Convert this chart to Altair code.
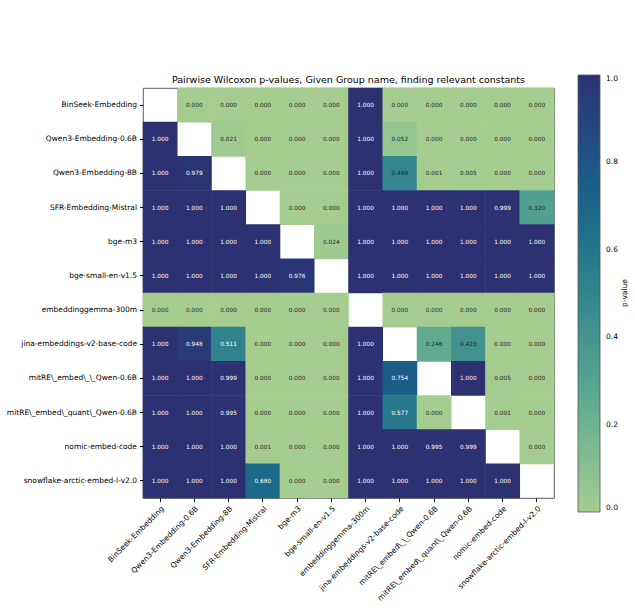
import altair as alt
import pandas as pd

names = [
    "BinSeek-Embedding",
    "Qwen3-Embedding-0.6B",
    "Qwen3-Embedding-8B",
    "SFR-Embedding-Mistral",
    "bge-m3",
    "bge-small-en-v1.5",
    "embeddinggemma-300m",
    "jina-embeddings-v2-base-code",
    "mitRE\\_embed\\_\\_Qwen-0.6B",
    "mitRE\\_embed\\_quant\\_Qwen-0.6B",
    "nomic-embed-code",
    "snowflake-arctic-embed-l-v2.0",
]

N = None
pvals = [
    [N, 0.000, 0.000, 0.000, 0.000, 0.000, 1.000, 0.000, 0.000, 0.000, 0.000, 0.000],
    [1.000, N, 0.021, 0.000, 0.000, 0.000, 1.000, 0.052, 0.000, 0.000, 0.000, 0.000],
    [1.000, 0.979, N, 0.000, 0.000, 0.000, 1.000, 0.489, 0.001, 0.005, 0.000, 0.000],
    [1.000, 1.000, 1.000, N, 0.000, 0.000, 1.000, 1.000, 1.000, 1.000, 0.999, 0.320],
    [1.000, 1.000, 1.000, 1.000, N, 0.024, 1.000, 1.000, 1.000, 1.000, 1.000, 1.000],
    [1.000, 1.000, 1.000, 1.000, 0.976, N, 1.000, 1.000, 1.000, 1.000, 1.000, 1.000],
    [0.000, 0.000, 0.000, 0.000, 0.000, 0.000, N, 0.000, 0.000, 0.000, 0.000, 0.000],
    [1.000, 0.948, 0.511, 0.000, 0.000, 0.000, 1.000, N, 0.246, 0.423, 0.000, 0.000],
    [1.000, 1.000, 0.999, 0.000, 0.000, 0.000, 1.000, 0.754, N, 1.000, 0.005, 0.000],
    [1.000, 1.000, 0.995, 0.000, 0.000, 0.000, 1.000, 0.577, 0.000, N, 0.001, 0.000],
    [1.000, 1.000, 1.000, 0.001, 0.000, 0.000, 1.000, 1.000, 0.995, 0.999, N, 0.000],
    [1.000, 1.000, 1.000, 0.680, 0.000, 0.000, 1.000, 1.000, 1.000, 1.000, 1.000, N],
]

# crest-like colormap stops
cmap_stops = [0.0, 1 / 7, 2 / 7, 3 / 7, 4 / 7, 5 / 7, 6 / 7, 1.0]
cmap_colors = ["#a5cd90", "#7dba91", "#59a590", "#40908e", "#287a8c", "#1c6488", "#254b7f", "#2c3172"]
legend_ticks = [0.0, 0.2, 0.4, 0.6, 0.8, 1.0]

rows = []
for i, r in enumerate(pvals):
    for j, v in enumerate(r):
        if v is not None:
            rows.append({"row": names[i], "col": names[j], "p": v})
df = pd.DataFrame(rows)

FONT = "DejaVu Sans"

xenc = alt.X(
    "col:N",
    sort=names,
    scale=alt.Scale(domain=names, paddingInner=0, paddingOuter=0),
    axis=alt.Axis(title=None, labelAngle=-45, labelAlign="right", labelBaseline="top",
                  labelFontSize=7.5, labelPadding=3, tickSize=3.5, labelLimit=300),
)
yenc = alt.Y(
    "row:N",
    sort=names,
    scale=alt.Scale(domain=names, paddingInner=0, paddingOuter=0),
    axis=alt.Axis(title=None, labelFontSize=7.5, labelPadding=3, tickSize=3.5, labelLimit=300),
)

base = alt.Chart(df).encode(x=xenc, y=yenc)

rect = base.mark_rect(width=34.8, height=34.8).encode(
    color=alt.Color(
        "p:Q",
        scale=alt.Scale(domain=cmap_stops, range=cmap_colors),
        legend=alt.Legend(
            type="gradient",
            title=None,
            orient="none",
            legendX=435,
            legendY=-13,
            direction="vertical",
            gradientLength=437,
            gradientThickness=22,
            values=legend_ticks,
            format=".1f",
            labelFontSize=7.5,
            labelOffset=6,
            gradientStrokeColor="#555555",
            gradientStrokeWidth=0.8,
        ),
    ),
)

text = base.mark_text(fontSize=5.8, font=FONT).encode(
    text=alt.Text("p:Q", format=".3f"),
    color=alt.condition(alt.datum.p > 0.5, alt.value("#ffffff"), alt.value("#262626")),
)

cbar_label = alt.Chart(pd.DataFrame({"t": ["p-value"]})).mark_text(
    angle=270, fontSize=7.5, font=FONT, color="#000000"
).encode(text="t:N", x=alt.value(482), y=alt.value(205))

chart = (
    alt.layer(rect, text, cbar_label)
    .properties(
        width=411,
        height=410,
        autosize=alt.AutoSizeParams(type="none"),
        padding={"left": 143, "top": 88, "right": 81, "bottom": 112},
        title=alt.TitleParams(
            "Pairwise Wilcoxon p-values, Given Group name, finding relevant constants",
            fontSize=9.5, fontWeight="normal", font=FONT, anchor="middle", offset=-9, color="#000000",
        ),
    )
    .configure(font=FONT, background="white")
    .configure_view(stroke="#333333", strokeWidth=0.8)
    .configure_axis(domain=False, grid=False, tickColor="#000000", labelColor="#000000",
                    labelFont=FONT)
    .configure_legend(labelFont=FONT, labelColor="#000000")
)

chart.save("out.html", embed_options={"renderer": "svg", "actions": False})
